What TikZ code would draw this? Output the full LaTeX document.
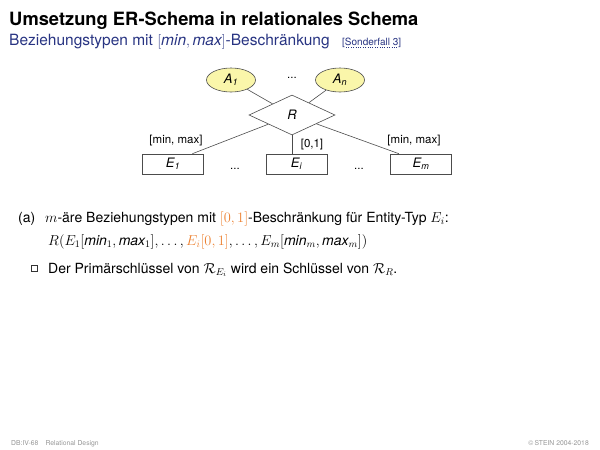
\documentclass[tikz,border=0pt]{standalone}
\usepackage{fontspec}
\setmainfont{TeX Gyre Heros}
\usetikzlibrary{shapes.geometric,calc}
\definecolor{slideblue}{RGB}{40,52,130}
\definecolor{hlorange}{RGB}{236,128,48}
\definecolor{attrfill}{RGB}{250,246,170}
\definecolor{footgray}{RGB}{150,150,150}
\tikzset{
      entitybox/.style={
        draw=black!70,
        line width=0.6pt,
        minimum width=61pt,
        minimum height=20pt,
        inner sep=0pt,
        font=\fontsize{13}{15}\selectfont\itshape
      },
      attrellipse/.style={
        ellipse,
        draw=black!70,
        line width=0.6pt,
        fill=attrfill,
        minimum width=49pt,
        minimum height=24pt,
        inner sep=0pt,
        font=\fontsize{13}{15}\selectfont\itshape
      },
      relshape/.style={
        diamond,
        draw=black!70,
        line width=0.6pt,
        fill=white,
        minimum width=86pt,
        minimum height=40pt,
        inner sep=0pt,
        font=\fontsize{13}{15}\selectfont\itshape
      },
      cardlabel/.style={
        inner sep=0pt,
        font=\fontsize{11.5}{13}\selectfont
      },
      bodytext/.style={
        anchor=base west,
        inner sep=0pt,
        font=\fontsize{14}{17}\selectfont
      }
    }

\begin{document}
\begin{tikzpicture}[x=1pt,y=-1pt]
    \useasboundingbox (0,0) rectangle (600,450);
    % heading
    \node[anchor=base west, inner sep=0pt, font=\fontsize{18.3}{21}\selectfont\bfseries] (title) at (9,25) {Umsetzung ER-Schema in relationales Schema};
    \node[anchor=base west, inner sep=0pt, font=\fontsize{15.5}{18}\selectfont, text=slideblue] (subtitle) at (9,45) {Beziehungstypen mit $[\textit{min}, \textit{max}]$-Beschränkung};
    \node[anchor=base west, inner sep=0pt, font=\fontsize{10}{12}\selectfont, text=slideblue] (sonder) at (342,45) {[Sonderfall 3]};
    \draw[dotted, slideblue] ($(sonder.base west)+(4,1.8)$) -- ($(sonder.base east)+(-4,1.8)$);

    % diagram
    \node[attrellipse] (a1) at (231,80) {A\textsubscript{1}};
    \node[attrellipse] (an) at (340,80) {A\textsubscript{n}};
    \node[cardlabel] (adots) at (292,78) {...};
    \node[relshape] (rel) at (292,115) {R};
    \node[entitybox] (e1) at (173,164) {E\textsubscript{1}};
    \node[entitybox] (ei) at (296.5,164) {E\textsubscript{i}};
    \node[entitybox] (em) at (421,164) {E\textsubscript{m}};
    \node[cardlabel] (dots1) at (235,169) {...};
    \node[cardlabel] (dots2) at (359,169) {...};
    \draw[black!70, line width=0.6pt] (a1) -- (rel);
    \draw[black!70, line width=0.6pt] (an) -- (rel);
    \draw[black!70, line width=0.6pt] (rel) -- (e1.28);
    \draw[black!70, line width=0.6pt] (rel.south) -- (rel.south |- ei.north);
    \draw[black!70, line width=0.6pt] (rel) -- (em.155);
    \node[cardlabel] (c1) at (176,141) {[min, max]};
    \node[cardlabel] (ci) at (312,145) {[0,1]};
    \node[cardlabel] (cm) at (414,141) {[min, max]};

    % text
    \node[bodytext] (lbl) at (18,222) {(a)};
    \node[bodytext] (line1) at (45,222) {$m$-äre Beziehungstypen mit {\color{hlorange}$[0,1]$}-Beschränkung für Entity-Typ $E_i$:};
    \node[bodytext] (line2) at (48,245) {$R(E_1[\textit{min}_1,\textit{max}_1],\ldots,{\color{hlorange}E_i[0,1]},\ldots,E_m[\textit{min}_m,\textit{max}_m])$};
    \node[draw=black!80, line width=0.5pt, minimum size=5.5pt, inner sep=0pt] (bullet) at (34,268) {};
    \node[bodytext] (line3) at (48,273) {Der Primärschlüssel von $\mathcal{R}_{E_i}$ wird ein Schlüssel von $\mathcal{R}_R$.};

    % footer
    \node[anchor=base west, inner sep=0pt, font=\fontsize{6.8}{8}\selectfont, text=footgray] (foot1) at (11,445) {DB:IV-68\hspace{7pt}Relational Design};
    \node[anchor=base east, inner sep=0pt, font=\fontsize{6.8}{8}\selectfont, text=footgray] (foot2) at (589,445) {\copyright\,STEIN 2004-2018};
\end{tikzpicture}
\end{document}
